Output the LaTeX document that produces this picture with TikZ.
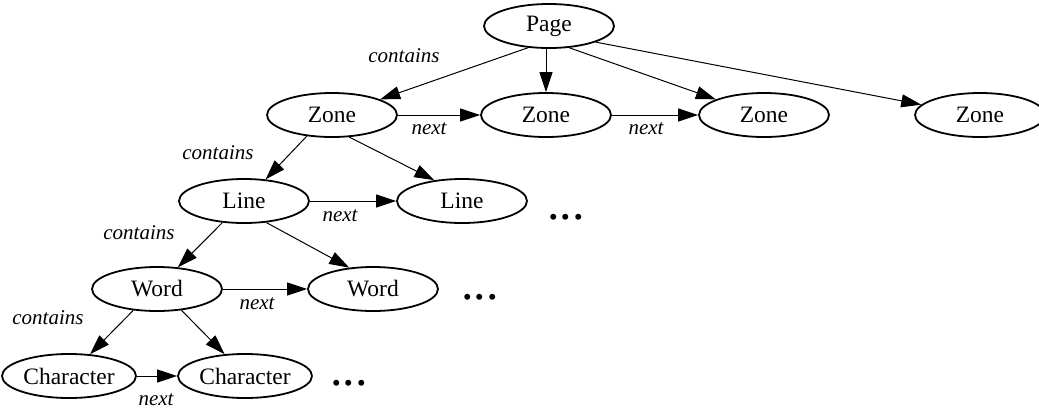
\documentclass[tikz,border=0pt]{standalone}
\usepackage{fontspec}
\setmainfont{Liberation Serif}
\usetikzlibrary{shapes.geometric,arrows.meta}
\begin{document}
\begin{tikzpicture}[x=1pt,y=-1pt,
  nd/.style={draw,ellipse,line width=1.8pt,minimum width=130pt,minimum height=44pt,inner sep=0pt,font=\fontsize{23.5}{27}\selectfont},
  chnd/.style={nd,minimum width=134pt},
  lab/.style={inner sep=0pt,font=\fontsize{21}{25}\selectfont\itshape},
  dots/.style={inner sep=0pt,anchor=base,font=\fontsize{50}{54}\selectfont},
  edge/.style={line width=1pt,-{Triangle[length=20pt,width=13pt]}}]
\useasboundingbox (0,0) rectangle (1039,413);
% nodes
\node[nd] (page) at (549,26) {Page};
\node[nd] (z1) at (332,115) {Zone};
\node[nd] (z2) at (546,115) {Zone};
\node[nd] (z3) at (764,115) {Zone};
\node[nd] (z4) at (980,115) {Zone};
\node[nd] (l1) at (244,201) {Line};
\node[nd] (l2) at (462,201) {Line};
\node[nd] (w1) at (157,289) {Word};
\node[nd] (w2) at (373,289) {Word};
\node[chnd] (c1) at (69,376) {Character};
\node[chnd] (c2) at (245,376) {Character};
% dots
\node[dots] (d1) at (566,219) {...};
\node[dots] (d2) at (480,299) {...};
\node[dots] (d3) at (349,385) {...};
% labels
\node[lab] (t1) at (404,56) {contains};
\node[lab] (t2) at (429,129) {next};
\node[lab] (t3) at (646,129) {next};
\node[lab] (t4) at (218,153) {contains};
\node[lab] (t5) at (340,216) {next};
\node[lab] (t6) at (139,233) {contains};
\node[lab] (t7) at (257,304) {next};
\node[lab] (t8) at (48,318) {contains};
\node[lab] (t9) at (156,400) {next};
% edges
\draw[edge] (page.-134) -- (z1.18);
\draw[edge] (page.south -| z2) -- (z2.north);
\draw[edge] (page.-47) -- (z3.162);
\draw[edge] (page.-19) -- (z4.170);
\draw[edge] (z1.east) -- (z2.west);
\draw[edge] (z2.east) -- (z3.west);
\draw[edge] (z1.-140) -- (l1.45);
\draw[edge] (z1.-52) -- (l2.143);
\draw[edge] (l1.east) -- (l2.west);
\draw[edge] (l1.-135) -- (w1.46);
\draw[edge] (l1.-44) -- (w2.138);
\draw[edge] (w1.east) -- (w2.west);
\draw[edge] (w1.-138) -- (c1.46);
\draw[edge] (w1.-41) -- (c2.133);
\draw[edge] (c1.east) -- (c2.west);
\end{tikzpicture}
\end{document}
